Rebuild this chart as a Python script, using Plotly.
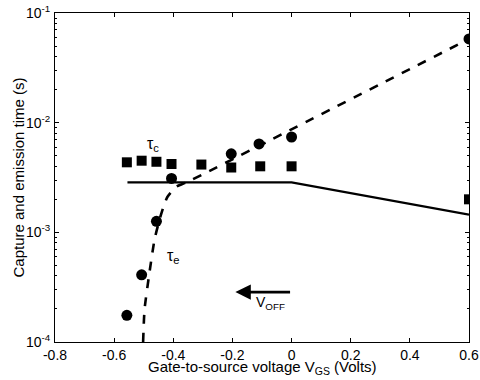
import plotly.graph_objects as go

# data
vgs_e = [-0.557, -0.507, -0.457, -0.406, -0.204, -0.11, 0.0, 0.6]
tau_e = [1.75e-4, 4.1e-4, 1.26e-3, 3.1e-3, 5.2e-3, 6.4e-3, 7.4e-3, 5.8e-2]
vgs_c = [-0.557, -0.507, -0.457, -0.406, -0.305, -0.204, -0.106, 0.0, 0.6]
tau_c = [4.35e-3, 4.5e-3, 4.4e-3, 4.2e-3, 4.15e-3, 3.9e-3, 4.0e-3, 4.0e-3, 2.0e-3]
fit_c_x = [-0.555, 0.0, 0.6]
fit_c_y = [2.85e-3, 2.85e-3, 1.45e-3]
fit_e_x = [-0.502, -0.497, -0.48, -0.463, -0.44, -0.42, -0.39, -0.356, 0.6]
fit_e_y = [1.0e-4, 2.0e-4, 4.4e-4, 8.7e-4, 1.5e-3, 2.1e-3, 2.6e-3, 2.85e-3, 5.8e-2]
xtick_vals = [-0.8, -0.6, -0.4, -0.2, 0, 0.2, 0.4, 0.6]
xtick_text = ["-0.8", "-0.6", "-0.4", "-0.2", "0", "0.2", "0.4", "0.6"]
ytick_vals = [1e-4, 1e-3, 1e-2, 1e-1]
ytick_text = ["10<sup>-4</sup>", "10<sup>-3</sup>", "10<sup>-2</sup>", "10<sup>-1</sup>"]
ymin_vals = [m * 10.0 ** e for e in (-4, -3, -2) for m in range(2, 10)]

FAM = "Liberation Sans, Arial, sans-serif"

fig = go.Figure()
fig.add_trace(go.Scatter(x=fit_e_x, y=fit_e_y, mode="lines",
                         line=dict(color="black", width=2.6, dash="dash", shape="spline", smoothing=0.6),
                         showlegend=False))
fig.add_trace(go.Scatter(x=fit_c_x, y=fit_c_y, mode="lines",
                         line=dict(color="black", width=2.2), showlegend=False))
fig.add_trace(go.Scatter(x=vgs_e, y=tau_e, mode="markers",
                         marker=dict(symbol="circle", size=11, color="black"), showlegend=False))
fig.add_trace(go.Scatter(x=vgs_c, y=tau_c, mode="markers",
                         marker=dict(symbol="square", size=10, color="black"), showlegend=False))

fig.add_annotation(x=-0.47, y=-2.2, xref="x", yref="y", text="τ<sub>c</sub>",
                   showarrow=False, font=dict(family=FAM, size=16, color="black"))
fig.add_annotation(x=-0.4, y=-3.22, xref="x", yref="y", text="τ<sub>e</sub>",
                   showarrow=False, font=dict(family=FAM, size=16, color="black"))
fig.add_annotation(x=-0.19, y=-3.545, ax=0.0, ay=-3.545, xref="x", yref="y", axref="x", ayref="y",
                   text="", showarrow=True, arrowhead=2, arrowsize=1.1, arrowwidth=2.8, arrowcolor="black")
fig.add_annotation(x=-0.07, y=-3.64, xref="x", yref="y", text="V<sub>OFF</sub>",
                   showarrow=False, font=dict(family=FAM, size=14, color="black"))
fig.add_annotation(x=0.5, y=0.0, xref="paper", yref="paper", yshift=-25, xanchor="center", yanchor="middle",
                   text="Gate-to-source voltage V<sub>GS</sub> (Volts)",
                   showarrow=False, font=dict(family=FAM, size=15, color="black"))
fig.add_annotation(x=0.0, y=0.5, xref="paper", yref="paper", xshift=-37, textangle=-90,
                   xanchor="center", yanchor="middle",
                   text="Capture and emission time (s)",
                   showarrow=False, font=dict(family=FAM, size=15, color="black"))

fig.update_layout(
    width=480, height=380,
    margin=dict(l=55, r=11, t=13, b=38, autoexpand=False),
    paper_bgcolor="white", plot_bgcolor="white",
    font=dict(family=FAM, size=14, color="black"),
    xaxis=dict(range=[-0.8, 0.6], tickvals=xtick_vals, ticktext=xtick_text, automargin=False,
               ticks="inside", ticklen=4, tickcolor="black", showline=True, linecolor="black",
               linewidth=1, mirror="ticks", showgrid=False, zeroline=False, ticklabelstandoff=0),
    yaxis=dict(type="log", range=[-4, -1], tickvals=ytick_vals, ticktext=ytick_text, automargin=False,
               ticks="inside", ticklen=4, tickcolor="black", showline=True, linecolor="black",
               linewidth=1, mirror="ticks", showgrid=False, zeroline=False, ticklabelstandoff=1,
               minor=dict(tickvals=ymin_vals, ticks="inside", ticklen=2, tickcolor="black", showgrid=False)),
)

fig.write_html("out.html", config={"displayModeBar": False},
               post_script="document.body.style.margin='0';document.body.style.overflow='hidden';")
